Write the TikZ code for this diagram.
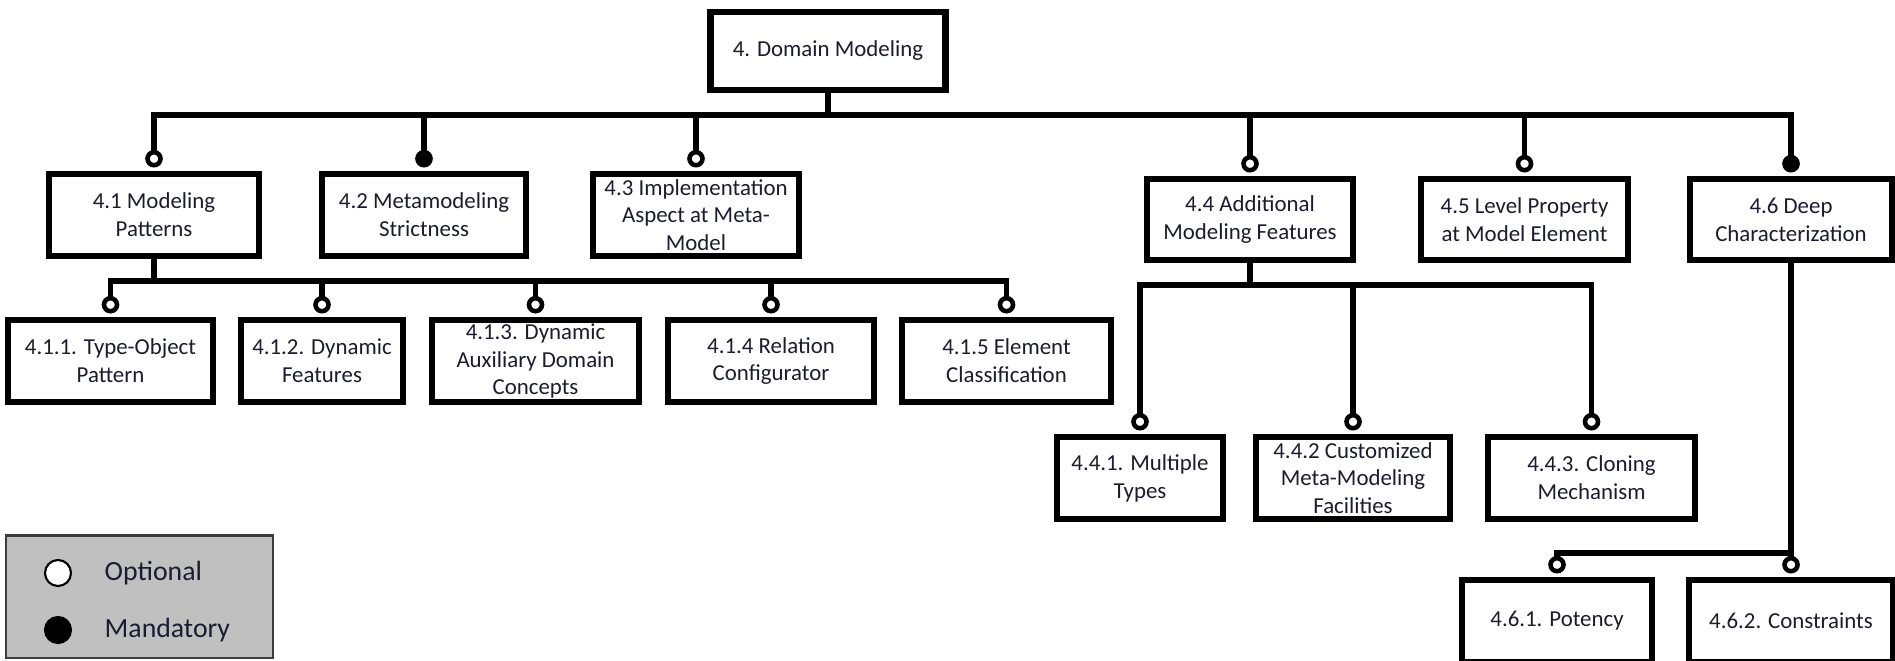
\documentclass[tikz,border=0pt]{standalone}
\usepackage{fontspec}
\setmainfont{Carlito}
\usetikzlibrary{arrows.meta}
\usepackage{xcolor}
\definecolor{labeltext}{RGB}{28,28,48}
\definecolor{legendgray}{RGB}{192,192,192}
\definecolor{legendedge}{RGB}{60,60,60}

\begin{document}
\begin{tikzpicture}[
        x=0.01cm, y=-0.01cm,
        feature/.style={
            draw=black,
            line width=1.9pt,
            fill=white,
            inner sep=0pt,
            align=center,
            minimum height=0.82cm,
            font=\fontsize{6.5}{7.9}\selectfont,
            text=labeltext
        },
        link/.style={line width=1.6pt, line cap=rect},
        optional/.style={link, shorten >=0.9pt, -{Circle[open, fill=white, length=5pt, line width=1.3pt]}},
        mandatory/.style={link, shorten >=0.9pt, -{Circle[length=5pt]}},
        legenddot/.style={circle, draw=black, line width=0.6pt, minimum size=0.26cm, inner sep=0pt},
        legendtext/.style={anchor=west, inner sep=0pt, font=\fontsize{7.9}{9}\selectfont, text=labeltext}
    ]
        \useasboundingbox (0,0) rectangle (1895,660);

        % Root feature
        \node[feature, minimum width=2.35cm, minimum height=0.78cm] (d4) at (828,51) {4. Domain Modeling};

        % Level 1 features
        \node[feature, minimum width=2.10cm] (d41) at (154,215) {4.1 Modeling\\Patterns};
        \node[feature, minimum width=2.04cm] (d42) at (424,215) {4.2 Metamodeling\\Strictness};
        \node[feature, minimum width=2.06cm] (d43) at (696,215) {4.3 Implementation\\Aspect at Meta-\\Model};
        \node[feature, minimum width=2.06cm, minimum height=0.81cm] (d44) at (1250,219.5) {4.4 Additional\\Modeling Features};
        \node[feature, minimum width=2.07cm, minimum height=0.81cm] (d45) at (1524.5,219.5) {4.5 Level Property\\at Model Element};
        \node[feature, minimum width=2.02cm, minimum height=0.81cm] (d46) at (1791,219.5) {4.6 Deep\\Characterization};

        % Children of 4.1
        \node[feature, minimum width=2.05cm] (d411) at (110.5,361) {4.1.1. Type-Object\\Pattern};
        \node[feature, minimum width=1.62cm] (d412) at (322,361) {4.1.2. Dynamic\\Features};
        \node[feature, minimum width=2.07cm] (d413) at (535.5,361) {4.1.3. Dynamic\\Auxiliary Domain\\Concepts};
        \node[feature, minimum width=2.06cm] (d414) at (771,361) {4.1.4 Relation\\Configurator};
        \node[feature, minimum width=2.09cm] (d415) at (1006.5,361) {4.1.5 Element\\Classification};

        % Children of 4.4
        \node[feature, minimum width=1.66cm] (d441) at (1140,478) {4.4.1. Multiple\\Types};
        \node[feature, minimum width=1.94cm] (d442) at (1353,478) {4.4.2 Customized\\Meta-Modeling\\Facilities};
        \node[feature, minimum width=2.07cm] (d443) at (1591.5,478) {4.4.3. Cloning\\Mechanism};

        % Children of 4.6
        \node[feature, minimum width=1.90cm] (d461) at (1557,621) {4.6.1. Potency};
        \node[feature, minimum width=2.04cm] (d462) at (1791,621) {4.6.2. Constraints};

        % Bar heights
        \coordinate (bar0) at (0,115);
        \coordinate (bar1) at (0,281);
        \coordinate (bar2) at (0,285);
        \coordinate (bar3) at (0,553);

        % Root to level 1
        \draw[link] (d4.south) -- (d4.south |- bar0);
        \draw[link] (d41.north |- bar0) -- (d46.north |- bar0);
        \draw[optional] (d41.north |- bar0) -- (d41.north);
        \draw[mandatory] (d42.north |- bar0) -- (d42.north);
        \draw[optional] (d43.north |- bar0) -- (d43.north);
        \draw[optional] (d44.north |- bar0) -- (d44.north);
        \draw[optional] (d45.north |- bar0) -- (d45.north);
        \draw[mandatory] (d46.north |- bar0) -- (d46.north);

        % 4.1 to its children
        \draw[link] (d41.south) -- (d41.south |- bar1);
        \draw[link] (d411.north |- bar1) -- (d415.north |- bar1);
        \foreach \n in {d411,d412,d413,d414,d415}
            \draw[optional] (\n.north |- bar1) -- (\n.north);

        % 4.4 to its children
        \draw[link] (d44.south) -- (d44.south |- bar2);
        \draw[link] (d441.north |- bar2) -- (d443.north |- bar2);
        \foreach \n in {d441,d442,d443}
            \draw[optional] (\n.north |- bar2) -- (\n.north);

        % 4.6 to its children
        \draw[link] (d46.south) -- (d46.south |- bar3) -- (d461.north |- bar3);
        \draw[optional] (d461.north |- bar3) -- (d461.north);
        \draw[optional] (d462.north |- bar3) -- (d462.north);

        % Legend
        \node[draw=legendedge, line width=0.6pt, fill=legendgray, minimum width=2.66cm, minimum height=1.22cm, inner sep=0pt] (legend) at (139.5,596.5) {};
        \node[legenddot, fill=white] (optdot) at (58,573) {};
        \node[legenddot, fill=black] (mandot) at (58,630) {};
        \node[legendtext] (opttext) at (104,573) {Optional};
        \node[legendtext] (mantext) at (104,630) {Mandatory};
    \end{tikzpicture}
\end{document}
